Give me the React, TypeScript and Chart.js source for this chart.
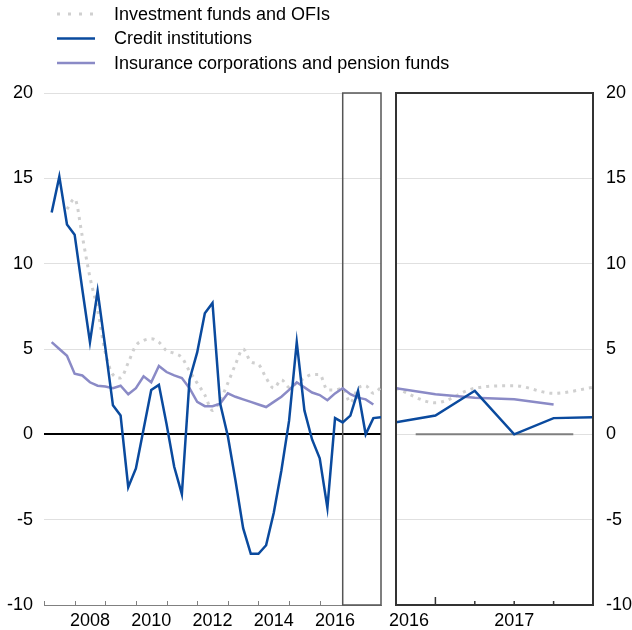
import React, { useEffect, useRef } from 'react';
import { Chart, registerables } from 'chart.js';

Chart.register(...registerables);

// ---------- data ----------
const quarters = [
  '2007 Q1', '2007 Q2', '2007 Q3', '2007 Q4',
  '2008 Q1', '2008 Q2', '2008 Q3', '2008 Q4',
  '2009 Q1', '2009 Q2', '2009 Q3', '2009 Q4',
  '2010 Q1', '2010 Q2', '2010 Q3', '2010 Q4',
  '2011 Q1', '2011 Q2', '2011 Q3', '2011 Q4',
  '2012 Q1', '2012 Q2', '2012 Q3', '2012 Q4',
  '2013 Q1', '2013 Q2', '2013 Q3', '2013 Q4',
  '2014 Q1', '2014 Q2', '2014 Q3', '2014 Q4',
  '2015 Q1', '2015 Q2', '2015 Q3', '2015 Q4',
  '2016 Q1', '2016 Q2', '2016 Q3', '2016 Q4',
  '2017 Q1', '2017 Q2', '2017 Q3', '2017 Q4',
];

const creditInstitutions = [
  13.0, 15.1, 12.3, 11.7, 8.5, 5.4, 8.4, 5.1, 1.7, 1.1,
  -3.1, -2.0, 0.3, 2.6, 2.9, 0.6, -1.9, -3.5, 3.2, 4.8,
  7.1, 7.7, 1.8, -0.1, -2.7, -5.5, -7.0, -7.0, -6.5, -4.6,
  -2.1, 0.8, 5.4, 1.4, -0.3, -1.4, -4.3, 0.95, 0.7, 1.1,
  2.55, 0.0, 0.95, 1.0,
];

const investmentFunds = [
  null, null, 13.2, 13.8, 11.6, 9.2, 7.3, 4.8, 3.5, 3.3,
  4.2, 5.2, 5.5, 5.6, 5.4, 4.9, 4.75, 4.5, 3.7, 3.0,
  2.3, 1.4, 2.0, 3.0, 4.1, 5.0, 4.25, 4.1, 3.3, 2.7,
  3.2, 2.75, 3.0, 3.3, 3.5, 3.5, 2.6, 2.6, 2.7, 1.85,
  2.7, 2.85, 2.4, 2.75,
];

const insuranceCorporations = [
  5.4, 5.0, 4.6, 3.55, 3.45, 3.05, 2.85, 2.8, 2.7, 2.85,
  2.35, 2.7, 3.4, 3.05, 4.0, 3.65, 3.45, 3.3, 2.7, 1.9,
  1.65, 1.65, 1.8, 2.4, 2.2, 2.05, 1.9, 1.75, 1.6, 1.9,
  2.2, 2.6, 3.05, 2.75, 2.45, 2.3, 2.0, 2.4, 2.7, 2.35,
  2.15, 2.05, 1.75, null,
];

const seriesNames = [
  'Investment funds and OFIs',
  'Credit institutions',
  'Insurance corporations and pension funds',
];

const yTickValues = [-10, -5, 0, 5, 10, 15, 20];
const leftLabelYears = [2008, 2010, 2012, 2014, 2016];
const leftTickYears = [2007, 2008, 2009, 2010, 2011, 2012, 2013, 2014, 2015, 2016];
const detailStartQuarter = '2016 Q3';
const rightLabelTexts = ['2016', '2017'];
const rightLabelPositions = [0.33, 3];
const rightReferenceSpan = [0.5, 4.5];

// ---------- style ----------
const FONT_FAMILY = '"Liberation Sans", Arial, Helvetica, sans-serif';
const FONT = { family: FONT_FAMILY, size: 18 };
const BLUE = '#0a4a9e';
const LAVENDER = '#8a8ac6';
const LIGHT_GREY = '#d0d0d0';
const GRID = '#e0e0e0';

const quarterToYear = (q: string) => {
  const [y, n] = q.split(' Q');
  return Number(y) + Number(n) / 4;
};

const detailStartIndex = quarters.indexOf(detailStartQuarter);

const legendPlugin = {
  id: 'customLegend',
  afterDraw(chart: any) {
    const ctx = chart.ctx;
    const items = [
      { label: seriesNames[0], color: LIGHT_GREY, width: 3, dash: [3, 8] },
      { label: seriesNames[1], color: BLUE, width: 2.5, dash: [] },
      { label: seriesNames[2], color: LAVENDER, width: 2.5, dash: [] },
    ];
    ctx.save();
    items.forEach((it, i) => {
      const y = 14 + i * 24.5;
      ctx.beginPath();
      ctx.strokeStyle = it.color;
      ctx.lineWidth = it.width;
      ctx.setLineDash(it.dash);
      ctx.moveTo(57, y);
      ctx.lineTo(95, y);
      ctx.stroke();
      ctx.setLineDash([]);
      ctx.fillStyle = '#000';
      ctx.font = `18px ${FONT_FAMILY}`;
      ctx.textBaseline = 'middle';
      ctx.textAlign = 'left';
      ctx.fillText(it.label, 114, y + 1);
    });
    ctx.restore();
  },
};

const leftDecorPlugin = {
  id: 'leftDecor',
  beforeDatasetsDraw(chart: any) {
    const { ctx, chartArea } = chart;
    const xs = chart.scales.x;
    const x0 = xs.getPixelForValue(quarterToYear(detailStartQuarter));
    ctx.save();
    ctx.strokeStyle = '#555';
    ctx.lineWidth = 1.5;
    ctx.strokeRect(x0, chartArea.top, chartArea.right - x0, chartArea.bottom - chartArea.top);
    ctx.restore();
  },
  afterDraw(chart: any) {
    const { ctx, chartArea } = chart;
    const xs = chart.scales.x;
    ctx.save();
    ctx.strokeStyle = '#808080';
    ctx.lineWidth = 1;
    leftTickYears.forEach((yr) => {
      const x = Math.round(xs.getPixelForValue(yr)) + 0.5;
      ctx.beginPath();
      ctx.moveTo(x, chartArea.bottom);
      ctx.lineTo(x, chartArea.bottom - 4);
      ctx.stroke();
    });
    ctx.restore();
  },
};

const rightDecorPlugin = {
  id: 'rightDecor',
  afterDatasetsDraw(chart: any) {
    const { ctx, chartArea } = chart;
    const xs = chart.scales.x;
    ctx.save();
    ctx.strokeStyle = '#333';
    ctx.lineWidth = 2;
    ctx.strokeRect(chartArea.left, chartArea.top, chartArea.right - chartArea.left, chartArea.bottom - chartArea.top);
    ctx.lineWidth = 1.5;
    const detailQuarters = quarters.slice(detailStartIndex);
    for (let i = 1; i < detailQuarters.length - 1; i++) {
      const len = detailQuarters[i].endsWith('Q4') ? 8 : 4;
      const x = xs.getPixelForValue(i);
      ctx.beginPath();
      ctx.moveTo(x, chartArea.bottom);
      ctx.lineTo(x, chartArea.bottom - len);
      ctx.stroke();
    }
    ctx.restore();
  },
};

export default function App() {
  const leftRef = useRef<HTMLCanvasElement | null>(null);
  const rightRef = useRef<HTMLCanvasElement | null>(null);

  useEffect(() => {
    const xsLeft = quarters.map(quarterToYear);
    const ptsLeft = (arr: (number | null)[]) => arr.map((v, i) => ({ x: xsLeft[i], y: v }));
    const ptsRight = (arr: (number | null)[]) =>
      arr.slice(detailStartIndex).map((v, i) => ({ x: i, y: v }));

    const yGridColor = (c: any) => (c.tick && c.tick.value === 0 ? '#000' : GRID);
    const yGridWidth = (c: any) => (c.tick && c.tick.value === 0 ? 2 : 1);

    const left = new Chart(leftRef.current as HTMLCanvasElement, {
      type: 'line',
      data: {
        datasets: [
          { label: seriesNames[1], data: ptsLeft(creditInstitutions), borderColor: BLUE, borderWidth: 2.5, pointRadius: 0, tension: 0 },
          { label: seriesNames[2], data: ptsLeft(insuranceCorporations), borderColor: LAVENDER, borderWidth: 2.5, pointRadius: 0, tension: 0 },
          { label: seriesNames[0], data: ptsLeft(investmentFunds), borderColor: LIGHT_GREY, borderWidth: 3, borderDash: [3, 5], pointRadius: 0, cubicInterpolationMode: 'monotone' },
        ] as any,
      },
      options: {
        responsive: false,
        animation: false,
        events: [],
        layout: { padding: { top: 93, right: 251, left: 0, bottom: 0 } },
        plugins: { legend: { display: false }, tooltip: { enabled: false } },
        scales: {
          x: {
            type: 'linear',
            min: 2007,
            max: 2018,
            afterBuildTicks: (s: any) => { s.ticks = leftLabelYears.map((y) => ({ value: y + 0.5 })); },
            afterFit: (s: any) => { s.height = 25; },
            ticks: { font: FONT, color: '#000', padding: -3, maxRotation: 0, autoSkip: false, callback: (v: any) => String(Math.floor(Number(v))) },
            grid: { display: false },
            border: { display: true, color: '#808080', width: 1 },
          },
          y: {
            min: -10,
            max: 20,
            afterBuildTicks: (s: any) => { s.ticks = yTickValues.map((v) => ({ value: v })); },
            afterFit: (s: any) => { s.width = 44; },
            ticks: { font: FONT, color: '#000', padding: 11 },
            grid: { drawTicks: false, color: yGridColor, lineWidth: yGridWidth },
            border: { display: false },
          },
        },
      } as any,
      plugins: [legendPlugin, leftDecorPlugin],
    });

    const right = new Chart(rightRef.current as HTMLCanvasElement, {
      type: 'line',
      data: {
        datasets: [
          { label: seriesNames[1], data: ptsRight(creditInstitutions), borderColor: BLUE, borderWidth: 2.5, pointRadius: 0, tension: 0 },
          { label: seriesNames[2], data: ptsRight(insuranceCorporations), borderColor: LAVENDER, borderWidth: 2.5, pointRadius: 0, tension: 0 },
          { label: seriesNames[0], data: ptsRight(investmentFunds), borderColor: LIGHT_GREY, borderWidth: 3, borderDash: [3, 5], pointRadius: 0, cubicInterpolationMode: 'monotone' },
          { label: 'reference', data: rightReferenceSpan.map((x) => ({ x, y: 0 })), borderColor: '#7f7f7f', borderWidth: 2, pointRadius: 0 },
        ] as any,
      },
      options: {
        responsive: false,
        animation: false,
        events: [],
        layout: { padding: { top: 93, left: 16, right: 0, bottom: 0 } },
        plugins: { legend: { display: false }, tooltip: { enabled: false } },
        scales: {
          x: {
            type: 'linear',
            min: 0,
            max: 5,
            afterBuildTicks: (s: any) => { s.ticks = rightLabelPositions.map((v) => ({ value: v })); },
            afterFit: (s: any) => { s.height = 25; },
            ticks: { font: FONT, color: '#000', padding: -3, maxRotation: 0, autoSkip: false, callback: (_v: any, i: number) => rightLabelTexts[i] },
            grid: { display: false },
            border: { display: false },
          },
          y: {
            position: 'right',
            min: -10,
            max: 20,
            afterBuildTicks: (s: any) => { s.ticks = yTickValues.map((v) => ({ value: v })); },
            afterFit: (s: any) => { s.width = 39; },
            ticks: { font: FONT, color: '#000', padding: 13 },
            grid: { drawTicks: false, color: GRID, lineWidth: 1 },
            border: { display: false },
          },
        },
      } as any,
      plugins: [rightDecorPlugin],
    });

    return () => {
      left.destroy();
      right.destroy();
    };
  }, []);

  return (
    <div style={{ position: 'fixed', left: 0, top: 0, width: 632, height: 630, background: '#fff' }}>
      <canvas ref={leftRef} width={632} height={630} style={{ position: 'absolute', left: 0, top: 0, width: 632, height: 630 }} />
      <canvas ref={rightRef} width={252} height={630} style={{ position: 'absolute', left: 380, top: 0, width: 252, height: 630 }} />
    </div>
  );
}
